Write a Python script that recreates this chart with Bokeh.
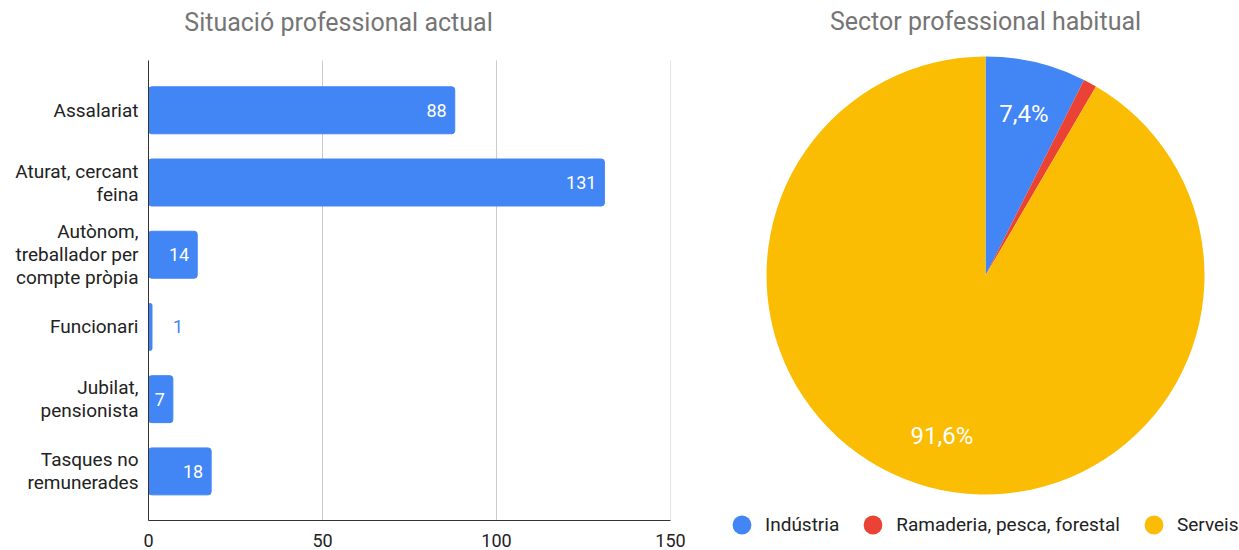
import math
from bokeh.plotting import figure
from bokeh.models import (ColumnDataSource, Range1d, FixedTicker, Label, Legend, LegendItem)
from bokeh.layouts import row
from bokeh.embed import file_html
from bokeh.resources import INLINE
from bokeh.core.properties import value

# ---- data ----
bar_title = "Situació professional actual"
categories = ["Assalariat", "Aturat, cercant\nfeina", "Autònom,\ntreballador per\ncompte pròpia",
              "Funcionari", "Jubilat,\npensionista", "Tasques no\nremunerades"]
counts = [88, 131, 14, 1, 7, 18]
x_ticks = [0, 50, 100, 150]

pie_title = "Sector professional habitual"
sectors = ["Indústria", "Ramaderia, pesca, forestal", "Serveis"]
sector_counts = [15, 2, 185]
sector_colors = ["#4285F4", "#EA4335", "#FBBC04"]

FONT = "Roboto"
BLUE = "#4285F4"
TITLE_COLOR = "#757575"

# ---- bar chart ----
FL, FR, FB = 148, 30, 30          # frame borders (frame reaches the top so the title can sit inside it)
W1, H1 = 700, 550
AX_TOP, AX_BOTTOM = -0.69, 5.68   # visible extent of the category axis
FRAME_TOP = -1.52                 # room above the axis for the title
idx = list(range(len(categories)))
p = figure(width=W1, height=H1, output_backend="svg", toolbar_location=None,
           x_range=Range1d(0, 150), y_range=Range1d(AX_BOTTOM, FRAME_TOP),
           min_border_left=FL, min_border_right=FR, min_border_top=0, min_border_bottom=FB)
p.frame_align = False
p.outline_line_color = None
p.xgrid.grid_line_color = None
p.ygrid.grid_line_color = None

# vertical grid lines at the x ticks, limited to the axis extent
p.segment(x0=x_ticks, x1=x_ticks, y0=AX_TOP, y1=AX_BOTTOM, line_color="#cccccc", line_width=1)

p.hbar(y=idx, right=counts, left=0, height=0.65, color=BLUE, border_radius=3)

inside = [(i, c) for i, c in zip(idx, counts) if c >= 5]
outside = [(i, c) for i, c in zip(idx, counts) if c < 5]
src_in = ColumnDataSource(dict(y=[a for a, _ in inside], x=[b for _, b in inside], t=[str(b) for _, b in inside]))
src_out = ColumnDataSource(dict(y=[a for a, _ in outside], x=[b for _, b in outside], t=[str(b) for _, b in outside]))
p.text(x="x", y="y", text="t", source=src_in, text_align="right", text_baseline="middle",
       x_offset=-8, text_color="white", text_font=value(FONT), text_font_size="18px")
p.text(x="x", y="y", text="t", source=src_out, text_align="left", text_baseline="middle",
       x_offset=21, text_color=BLUE, text_font=value(FONT), text_font_size="18px")

# title: screen units relative to the frame's bottom-left corner
frame_h = H1 - FB
p.add_layout(Label(x=338 - FL, y=frame_h - 22, x_units="screen", y_units="screen", text=bar_title,
                   text_align="center", text_baseline="middle", text_font=FONT,
                   text_font_size="25px", text_color=TITLE_COLOR))

p.xaxis.ticker = FixedTicker(ticks=x_ticks)
p.yaxis.ticker = FixedTicker(ticks=idx)
p.yaxis.bounds = (AX_TOP, AX_BOTTOM)
p.yaxis.major_label_overrides = {i: c for i, c in zip(idx, categories)}
for ax in (p.xaxis, p.yaxis):
    ax.axis_line_color = "#333333"
    ax.axis_line_width = 1
    ax.major_tick_line_color = None
    ax.minor_tick_line_color = None
    ax.major_label_text_font = FONT
    ax.major_label_text_color = "#222222"
p.yaxis.major_label_text_font_size = "19px"
p.xaxis.major_label_text_font_size = "18px"
p.yaxis.major_label_standoff = 4
p.yaxis.major_label_text_line_height = 1.0
p.xaxis.major_label_standoff = 7

# ---- pie chart ----
W2, H2 = 539, 550
q = figure(width=W2, height=H2, output_backend="svg", toolbar_location=None,
           x_range=Range1d(0, W2), y_range=Range1d(0, H2),
           x_axis_type=None, y_axis_type=None, min_border=0)
q.frame_align = False
q.outline_line_color = None
q.grid.visible = False

cx, cy, R = 285, 275, 219
total = sum(sector_counts)
fr = [c / total for c in sector_counts]
starts, ends, cum = [], [], 0.0
for f in fr:
    starts.append(math.pi / 2 - cum * 2 * math.pi)
    cum += f
    ends.append(math.pi / 2 - cum * 2 * math.pi)
psrc = ColumnDataSource(dict(start=starts, end=ends, color=sector_colors, name=sectors))
q.wedge(x=cx, y=cy, radius=R, start_angle="start", end_angle="end", direction="clock",
        color="color", line_color=None, source=psrc)

lx, ly, lt = [], [], []
for s, e, f in zip(starts, ends, fr):
    if f < 0.05:
        continue
    m = (s + e) / 2
    lx.append(cx + 0.76 * R * math.cos(m))
    ly.append(cy + 0.76 * R * math.sin(m))
    lt.append(f"{f*100:.1f}%".replace(".", ","))
q.text(x=lx, y=ly, text=lt, text_align="center", text_baseline="middle",
       text_color="white", text_font=value(FONT), text_font_size="24px")

q.add_layout(Label(x=cx, y=H2 - 21, text=pie_title, text_align="center", text_baseline="middle",
                   text_font=FONT, text_font_size="25px", text_color=TITLE_COLOR))

# legend: zero-size markers sharing the pie's source, used only for legend glyphs
lr = q.scatter(x=cx, y=cy, marker="circle", size=0, color="color", line_color=None, source=psrc)
items = [LegendItem(label=name, renderers=[lr], index=i) for i, name in enumerate(sectors)]
leg = Legend(items=items, orientation="horizontal", location=(18, 2),
             border_line_color=None, background_fill_alpha=0, padding=0, margin=0,
             spacing=10, label_standoff=-1, glyph_width=47, glyph_height=47,
             label_text_font=FONT, label_text_font_size="19px", label_text_color="#222222",
             label_text_baseline="middle")
q.add_layout(leg)

layout = row(p, q)
open("out.html", "w").write(file_html(layout, INLINE))
